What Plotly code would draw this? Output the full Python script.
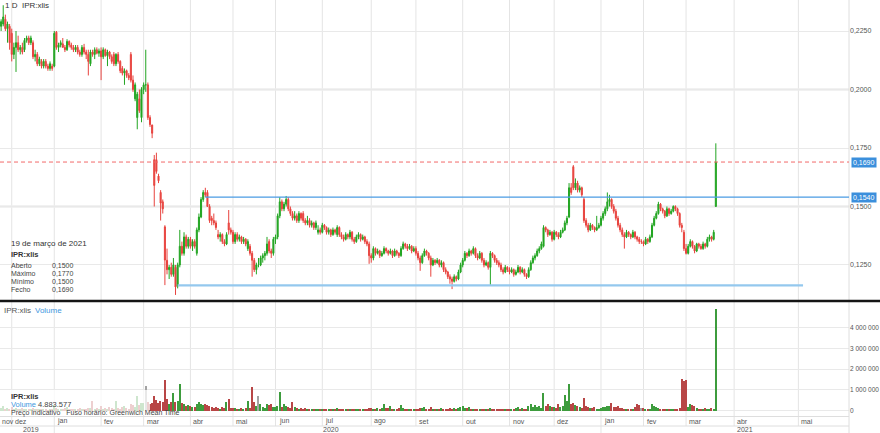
import plotly.graph_objects as go

# ---------------- data (daily candles, 25 Nov 2019 .. 19 Mar 2021) ----------------
open_ = [
    .2270, .2280, .2300, .2260, .2270,
    .2240, .2150, .2180, .2200, .2170, .2180, .2170, .2210, .2220, .2200, .2200, .2140, .2150, .2110, .2120, .2100, .2120, .2100, .2090, .2100,
    .2100, .2245, .2180, .2190, .2195, .2180, .2170, .2205, .2190, .2180, .2170, .2180, .2160, .2150, .2180, .2160, .2150, .2110, .2160, .2150, .2170, .2155,
    .2165, .2140, .2170, .2145, .2160, .2140, .2150, .2110, .2150, .2120, .2090, .2070, .2080, .2060, .2150, .2040, .1960, .1880, .1960, .1880,
    .2000, .2020, .2020, .1880, .1848, .1700, .1700, .1630, .1560, .1520, .1413, .1270, .1230, .1240, .1210, .1240, .1160, .1250, .1330, .1300, .1370, .1330,
    .1360, .1330, .1350, .1300, .1400, .1455, .1530, .1560, .1560, .1500, .1450, .1440, .1430, .1380, .1370, .1380, .1350, .1340, .1430, .1400,
    .1390, .1350, .1380, .1360, .1370, .1350, .1360, .1320, .1330, .1300, .1270, .1230, .1250, .1250, .1280, .1290, .1300, .1350, .1310, .1300,
    .1360, .1370, .1460, .1520, .1490, .1510, .1530, .1490, .1470, .1450, .1460, .1440, .1470, .1470, .1440, .1430, .1440, .1420, .1430, .1410, .1390, .1400,
    .1390, .1420, .1410, .1390, .1400, .1380, .1400, .1380, .1410, .1380, .1370, .1360, .1380, .1370, .1390, .1360, .1350, .1370, .1380, .1360, .1370, .1350, .1340,
    .1290, .1280, .1320, .1300, .1310, .1290, .1300, .1320, .1310, .1300, .1310, .1290, .1310, .1300, .1290, .1320, .1340, .1330, .1320, .1330, .1310,
    .1320, .1300, .1280, .1260, .1290, .1310, .1300, .1280, .1250, .1270, .1260, .1270, .1250, .1260, .1230, .1220, .1200, .1190, .1180, .1200, .1190, .1220,
    .1250, .1270, .1300, .1290, .1310, .1300, .1320, .1290, .1280, .1300, .1270, .1250, .1260, .1240, .1300, .1290, .1270, .1260, .1250, .1230, .1220, .1240,
    .1230, .1220, .1230, .1210, .1220, .1240, .1220, .1230, .1210, .1200, .1230, .1260, .1280, .1290, .1310, .1320, .1330, .1410, .1400, .1380, .1390,
    .1360, .1390, .1380, .1370, .1390, .1400, .1430, .1455, .1580, .1670, .1580, .1600, .1570, .1580, .1530, .1440, .1420, .1400, .1420, .1410, .1400, .1410,
    .1420, .1450, .1470, .1490, .1520, .1530, .1500, .1480, .1450, .1420, .1400, .1380, .1370, .1390, .1380, .1370, .1390, .1370, .1360, .1350,
    .1350, .1340, .1360, .1350, .1370, .1420, .1450, .1470, .1510, .1490, .1480, .1460, .1490, .1470, .1480, .1500, .1490, .1470, .1420, .1390,
    .1320, .1300, .1330, .1350, .1330, .1310, .1340, .1330, .1320, .1340, .1330, .1360, .1370, .1360, .1500,
]
high = [
    .2300, .2360, .2320, .2290, .2280,
    .2260, .2200, .2250, .2230, .2190, .2200, .2220, .2230, .2230, .2230, .2210, .2170, .2160, .2140, .2130, .2130, .2130, .2110, .2120, .2110,
    .2250, .2250, .2200, .2210, .2220, .2190, .2215, .2210, .2200, .2190, .2190, .2190, .2170, .2190, .2195, .2170, .2170, .2170, .2170, .2180, .2180, .2175,
    .2180, .2180, .2175, .2170, .2165, .2150, .2160, .2155, .2160, .2125, .2100, .2090, .2085, .2070, .2160, .2060, .2030, .1990, .2000, .2010,
    .2030, .2170, .2030, .1890, .1850, .1720, .1730, .1640, .1570, .1530, .1420, .1320, .1250, .1260, .1280, .1250, .1260, .1400, .1350, .1390, .1380, .1370,
    .1370, .1360, .1360, .1410, .1470, .1540, .1570, .1580, .1570, .1510, .1460, .1470, .1440, .1400, .1390, .1385, .1360, .1390, .1485, .1410,
    .1400, .1390, .1390, .1380, .1375, .1370, .1365, .1360, .1340, .1310, .1280, .1260, .1280, .1290, .1300, .1310, .1370, .1360, .1320, .1370,
    .1380, .1470, .1540, .1530, .1520, .1545, .1540, .1500, .1480, .1480, .1470, .1480, .1475, .1480, .1450, .1460, .1450, .1440, .1435, .1440, .1420, .1410,
    .1430, .1425, .1415, .1410, .1405, .1410, .1405, .1420, .1415, .1390, .1380, .1390, .1385, .1400, .1395, .1370, .1380, .1390, .1385, .1380, .1375, .1360, .1350,
    .1300, .1330, .1325, .1320, .1315, .1310, .1330, .1325, .1315, .1320, .1315, .1320, .1315, .1305, .1330, .1350, .1345, .1340, .1340, .1335, .1330,
    .1330, .1310, .1290, .1300, .1320, .1315, .1305, .1290, .1280, .1275, .1280, .1275, .1270, .1265, .1240, .1225, .1210, .1200, .1210, .1205, .1230, .1260,
    .1280, .1310, .1305, .1320, .1315, .1330, .1325, .1300, .1310, .1305, .1280, .1270, .1265, .1310, .1305, .1295, .1280, .1270, .1260, .1240, .1250, .1245,
    .1240, .1240, .1235, .1230, .1250, .1245, .1240, .1235, .1215, .1240, .1270, .1290, .1300, .1320, .1330, .1350, .1420, .1415, .1405, .1400, .1395,
    .1400, .1395, .1390, .1400, .1410, .1440, .1460, .1600, .1600, .1677, .1620, .1610, .1590, .1585, .1540, .1450, .1430, .1430, .1425, .1415, .1460, .1430,
    .1460, .1480, .1500, .1560, .1550, .1535, .1510, .1490, .1460, .1430, .1410, .1390, .1400, .1395, .1385, .1400, .1395, .1375, .1370, .1360,
    .1355, .1370, .1365, .1380, .1430, .1460, .1480, .1520, .1515, .1495, .1485, .1500, .1495, .1490, .1505, .1505, .1495, .1475, .1430, .1400,
    .1340, .1340, .1360, .1355, .1335, .1345, .1345, .1340, .1350, .1345, .1370, .1380, .1375, .1400, .1770,
]
low = [
    .2250, .2270, .2250, .2200, .2170,
    .2120, .2130, .2075, .2160, .2150, .2150, .2160, .2200, .2190, .2190, .2130, .2120, .2100, .2100, .2090, .2090, .2090, .2080, .2080, .2080,
    .2095, .2170, .2160, .2180, .2180, .2160, .2165, .2180, .2170, .2160, .2160, .2150, .2140, .2140, .2150, .2130, .2060, .2100, .2140, .2130, .2150, .2140,
    .2040, .2130, .2140, .2100, .2130, .2110, .2100, .2100, .2110, .2070, .2060, .2020, .2050, .2040, .2030, .1990, .1950, .1830, .1900, .1860,
    .1980, .1990, .1870, .1840, .1792, .1500, .1640, .1600, .1440, .1470, .1164, .1210, .1190, .1200, .1200, .1122, .1150, .1240, .1290, .1290, .1320, .1320,
    .1320, .1310, .1320, .1290, .1390, .1450, .1520, .1540, .1500, .1430, .1420, .1420, .1400, .1360, .1350, .1340, .1330, .1335, .1380, .1380,
    .1340, .1340, .1350, .1350, .1340, .1340, .1330, .1310, .1290, .1200, .1220, .1210, .1240, .1245, .1260, .1270, .1290, .1300, .1280, .1290,
    .1340, .1360, .1450, .1480, .1480, .1500, .1480, .1460, .1440, .1440, .1430, .1430, .1440, .1430, .1420, .1420, .1410, .1410, .1400, .1400, .1380, .1380,
    .1385, .1400, .1380, .1380, .1370, .1375, .1380, .1370, .1370, .1360, .1350, .1355, .1360, .1360, .1350, .1340, .1345, .1360, .1350, .1355, .1340, .1330, .1255,
    .1260, .1270, .1290, .1295, .1280, .1285, .1295, .1300, .1290, .1295, .1280, .1285, .1290, .1280, .1285, .1315, .1320, .1310, .1315, .1300, .1305,
    .1290, .1270, .1225, .1255, .1285, .1290, .1270, .1200, .1245, .1250, .1255, .1240, .1240, .1220, .1210, .1190, .1170, .1147, .1175, .1180, .1185, .1215,
    .1240, .1265, .1280, .1285, .1290, .1295, .1280, .1270, .1275, .1260, .1240, .1245, .1230, .1165, .1280, .1260, .1250, .1240, .1220, .1210, .1215, .1220,
    .1210, .1215, .1200, .1205, .1215, .1210, .1215, .1200, .1190, .1195, .1225, .1255, .1270, .1285, .1300, .1315, .1325, .1390, .1370, .1375, .1350,
    .1355, .1370, .1360, .1365, .1385, .1395, .1420, .1450, .1550, .1570, .1570, .1560, .1560, .1540, .1430, .1410, .1390, .1395, .1400, .1390, .1395, .1405,
    .1415, .1440, .1460, .1480, .1500, .1490, .1470, .1440, .1410, .1390, .1370, .1320, .1365, .1370, .1360, .1365, .1360, .1350, .1340, .1340,
    .1330, .1335, .1340, .1345, .1365, .1415, .1445, .1465, .1480, .1470, .1450, .1455, .1460, .1465, .1475, .1480, .1460, .1410, .1390, .1310,
    .1295, .1295, .1325, .1320, .1300, .1305, .1320, .1315, .1315, .1320, .1325, .1350, .1350, .1355, .1500,
]
close = [
    .2290, .2310, .2260, .2280, .2200,
    .2150, .2180, .2200, .2170, .2180, .2160, .2210, .2220, .2200, .2220, .2140, .2150, .2110, .2130, .2100, .2120, .2100, .2090, .2110, .2090,
    .2240, .2180, .2190, .2200, .2180, .2170, .2205, .2190, .2180, .2170, .2180, .2160, .2150, .2180, .2160, .2150, .2120, .2160, .2150, .2170, .2155, .2165,
    .2140, .2170, .2145, .2160, .2140, .2120, .2110, .2150, .2120, .2080, .2070, .2080, .2060, .2050, .2040, .2000, .2020, .1980, .1910, .2000,
    .2020, .2020, .1880, .1850, .1813, .1590, .1650, .1610, .1515, .1490, .1271, .1230, .1240, .1210, .1250, .1156, .1250, .1330, .1300, .1370, .1330, .1360,
    .1330, .1350, .1330, .1400, .1455, .1530, .1560, .1550, .1500, .1440, .1440, .1430, .1410, .1370, .1380, .1350, .1340, .1380, .1400, .1390,
    .1350, .1380, .1360, .1370, .1350, .1360, .1340, .1350, .1300, .1270, .1230, .1250, .1250, .1280, .1290, .1300, .1340, .1310, .1300, .1360,
    .1370, .1460, .1520, .1490, .1510, .1530, .1490, .1470, .1450, .1460, .1440, .1470, .1450, .1440, .1430, .1440, .1420, .1430, .1410, .1430, .1400, .1390,
    .1420, .1410, .1390, .1400, .1380, .1400, .1390, .1410, .1380, .1370, .1360, .1380, .1370, .1390, .1360, .1350, .1370, .1380, .1360, .1370, .1350, .1340, .1290,
    .1280, .1320, .1300, .1310, .1290, .1300, .1320, .1310, .1300, .1310, .1290, .1310, .1300, .1290, .1320, .1340, .1330, .1320, .1330, .1310, .1320,
    .1300, .1280, .1260, .1290, .1310, .1300, .1280, .1250, .1270, .1260, .1270, .1250, .1260, .1230, .1220, .1200, .1190, .1180, .1200, .1190, .1220, .1250,
    .1270, .1300, .1290, .1310, .1300, .1320, .1290, .1280, .1300, .1270, .1250, .1260, .1240, .1300, .1290, .1270, .1260, .1250, .1230, .1220, .1240, .1230,
    .1220, .1230, .1210, .1220, .1240, .1220, .1230, .1210, .1200, .1230, .1260, .1280, .1290, .1310, .1320, .1340, .1410, .1400, .1380, .1390, .1360,
    .1390, .1380, .1370, .1390, .1400, .1430, .1450, .1580, .1560, .1580, .1600, .1570, .1580, .1550, .1440, .1420, .1400, .1420, .1410, .1400, .1410, .1420,
    .1450, .1470, .1490, .1520, .1530, .1500, .1480, .1450, .1420, .1400, .1380, .1370, .1390, .1380, .1370, .1390, .1370, .1360, .1350, .1350,
    .1340, .1360, .1350, .1370, .1420, .1450, .1470, .1510, .1490, .1480, .1460, .1490, .1470, .1480, .1500, .1490, .1470, .1420, .1410, .1320,
    .1300, .1330, .1350, .1330, .1310, .1340, .1330, .1320, .1340, .1330, .1360, .1370, .1360, .1390, .1690,
]
# volume in thousands of shares
volume_k = [
    120, 210, 90, 150, 80,
    180, 90, 140, 60, 70, 110, 50, 80, 40, 60, 130, 70, 90, 50, 60, 80, 40, 30, 70, 50,
    260, 150, 90, 60, 80, 110, 170, 70, 60, 90, 50, 80, 120, 60, 90, 70, 140, 120, 450, 80, 110, 60,
    210, 90, 130, 70, 160, 110, 80, 450, 120, 90, 180, 240, 150, 100, 330, 260, 200, 710, 280, 350,
    380, 1200, 420, 300, 350, 710, 520, 380, 450, 400, 1480, 560, 330, 410, 850, 420, 460, 1290, 380, 300, 250, 280,
    240, 200, 180, 300, 440, 300, 260, 320, 280, 220, 180, 150, 190, 130, 100, 160, 120, 430, 560, 150,
    150, 120, 100, 90, 140, 80, 110, 450, 150, 1130, 400, 250, 710, 300, 200, 150, 320, 280, 300, 200,
    180, 250, 920, 200, 300, 250, 180, 150, 430, 200, 120, 100, 150, 90, 120, 80, 60, 70, 100, 80, 60, 90,
    70, 60, 50, 80, 60, 90, 70, 110, 60, 50, 40, 70, 50, 60, 40, 50, 90, 60, 80, 50, 70, 90, 110,
    120, 100, 80, 150, 90, 110, 300, 140, 120, 250, 100, 90, 80, 120, 280, 110, 90, 100, 70, 80, 90,
    80, 100, 150, 120, 180, 90, 70, 200, 80, 60, 90, 70, 110, 80, 60, 100, 120, 90, 150, 80, 130, 160,
    250, 140, 110, 180, 90, 70, 100, 80, 60, 50, 70, 90, 60, 120, 80, 70, 60, 50, 60, 40, 80, 60,
    70, 90, 60, 120, 180, 100, 130, 90, 80, 250, 320, 200, 280, 180, 220, 150, 840, 250, 300, 220, 180,
    200, 150, 320, 180, 250, 760, 450, 1270, 300, 350, 280, 220, 160, 150, 600, 250, 180, 150, 120, 200, 100, 90,
    150, 200, 180, 250, 220, 390, 200, 180, 220, 150, 120, 100, 80, 90, 70, 100, 200, 300, 280, 150,
    120, 80, 60, 100, 300, 250, 200, 150, 90, 60, 80, 70, 50, 60, 90, 70, 80, 130, 1530, 1410,
    1480, 200, 300, 280, 250, 120, 100, 80, 90, 150, 100, 80, 110, 90, 4883.577,
]

# month ticks (candle index of the first session of each month; future months on calendar spacing)
month_labels = ["dez", "jan", "fev", "mar", "abr", "mai", "jun", "jul", "ago", "set", "out", "nov",
                "dez", "jan", "fev", "mar", "abr", "mai"]
month_pos = [5, 25, 47, 67, 89, 109, 129, 151, 174, 195, 217, 239, 260, 282, 302, 322, 344.6, 374.8]
year_labels = ["2019", "2020", "2021"]
year_label_pos = [9, 150, 344.6]
year_bounds = [25, 282]

price_ticks = [0.125, 0.150, 0.175, 0.200, 0.225]
volume_ticks = [0, 1000000, 2000000, 3000000, 4000000]

last_price = 0.1690
resistance = 0.1540
resistance_start = 96
support = 0.1163
support_span = [83, 377]

info_date = "19 de março de 2021"
info_rows = [("Aberto", "0,1500"), ("Máximo", "0,1770"), ("Mínimo", "0,1500"), ("Fecho", "0,1690")]
last_volume_text = "4.883.577"

# ---------------- figure ----------------
X_RANGE = [-0.52, 398.6]
W, H = 880, 433
PLOT_W, PLOT_B = 849, 416


def pxx(p):
    return p / PLOT_W


def pxy(p):
    return (PLOT_B - p) / PLOT_B


x = list(range(len(close)))
volume = [v * 1000 for v in volume_k]
GREEN, RED = "#22a522", "#e8433e"
vcol = []
for o, c in zip(open_, close):
    if c > o:
        vcol.append("#3d9c3d")
    elif c < o:
        vcol.append("#b84646")
    else:
        vcol.append("#a3a3a3")

fig = go.Figure()
fig.add_trace(go.Candlestick(
    x=x, open=open_, high=high, low=low, close=close,
    increasing=dict(line=dict(color=GREEN, width=1), fillcolor=GREEN),
    decreasing=dict(line=dict(color=RED, width=1), fillcolor=RED),
    whiskerwidth=0, xaxis="x", yaxis="y", hoverinfo="skip",
))
fig.add_trace(go.Bar(
    x=x, y=volume, marker=dict(color=vcol, line=dict(width=0)), width=0.62,
    xaxis="x", yaxis="y2", hoverinfo="skip",
))

shapes = []
# vertical month grid lines, extended through the month-label row
for p in month_pos:
    shapes.append(dict(type="line", xref="x", yref="paper", x0=p, x1=p, y0=pxy(426), y1=1,
                       line=dict(color="#e4e4e4", width=1), layer="below"))
for p in year_bounds:
    shapes.append(dict(type="line", xref="x", yref="paper", x0=p, x1=p, y0=pxy(433), y1=pxy(426),
                       line=dict(color="#e4e4e4", width=1), layer="below"))
# axis rows
for yy in (416.5, 426):
    shapes.append(dict(type="line", xref="paper", yref="paper", x0=0, x1=1, y0=pxy(yy), y1=pxy(yy),
                       line=dict(color="#dedede", width=1)))
shapes.append(dict(type="line", xref="paper", yref="paper", x0=1, x1=1, y0=pxy(433), y1=1,
                   line=dict(color="#dedede", width=1)))
# heavier grid lines at 0,1500 and 0,2000
for lv in (0.15, 0.20):
    shapes.append(dict(type="line", xref="paper", yref="y", x0=0, x1=1, y0=lv, y1=lv,
                       line=dict(color="#ececec", width=2.5), layer="below"))
# panel separator
shapes.append(dict(type="line", xref="paper", yref="paper", x0=0, x1=W / PLOT_W, y0=pxy(301), y1=pxy(301),
                   line=dict(color="#151515", width=2.5)))
# level lines
shapes.append(dict(type="line", xref="paper", yref="y", x0=0, x1=1, y0=last_price, y1=last_price,
                   line=dict(color="#f26a6a", width=1, dash="4px,3px")))
shapes.append(dict(type="line", xref="x", yref="y", x0=resistance_start, x1=X_RANGE[1], y0=resistance, y1=resistance,
                   line=dict(color="#4a9be3", width=1.3)))
shapes.append(dict(type="line", xref="x", yref="y", x0=support_span[0], x1=support_span[1], y0=support, y1=support,
                   line=dict(color="#94c8ee", width=2.2)))
# translucent box behind the volume legend
shapes.append(dict(type="rect", xref="paper", yref="paper", x0=0, x1=pxx(150), y0=pxy(415), y1=pxy(390),
                   fillcolor="rgba(255,255,255,0.75)", line=dict(width=0), layer="above"))

FONT = "Liberation Sans, Arial, sans-serif"
TXT = "#444444"
ann = []


def text(t, xp, yp, size=8, color=TXT, bold=False, **kw):
    if bold:
        t = "<b>" + t + "</b>"
    d = dict(text=t, xref="paper", yref="paper", x=pxx(xp), y=pxy(yp), xanchor="left", yanchor="middle",
             showarrow=False, font=dict(family=FONT, size=size, color=color))
    d.update(kw)
    ann.append(d)


text("1 D", 3, 6, size=8, color="#333")
text("IPR:xlis", 20, 6, size=8, color="#333")
text(info_date, 9, 243, size=8, color="#333")
text("IPR:xlis", 9, 255, size=7.5, color="#333", bold=True)
for k, (lab, val) in enumerate(info_rows):
    text(lab, 9, 265 + 8 * k, size=7, color="#444")
    text(val, 50, 265 + 8 * k, size=7, color="#444")
text("IPR:xlis", 2, 310, size=8, color="#555")
text("Volume", 33, 310, size=8, color="#3f97e0")
text("IPR:xlis", 9, 396, size=7.5, color="#333", bold=True)
text("Volume", 9, 404.5, size=7.5, color="#3f97e0")
text(last_volume_text, 36, 404.5, size=7.5, color="#444")
text("Preço indicativo &nbsp;&nbsp;Fuso horário: Greenwich Mean Time", 9, 412.5, size=7, color="#444")

# month and year labels
LBL = dict(family=FONT, size=7, color="#555")
ann.append(dict(text="nov", xref="paper", yref="paper", x=0, y=pxy(421.5), xanchor="left", yanchor="middle",
                showarrow=False, xshift=0, font=LBL))
for lab, p in zip(month_labels, month_pos):
    ann.append(dict(text=lab, xref="x", yref="paper", x=p, y=pxy(421.5), xanchor="left", yanchor="middle",
                    showarrow=False, xshift=1, font=LBL))
for lab, p in zip(year_labels, year_label_pos):
    ann.append(dict(text=lab, xref="x", yref="paper", x=p, y=pxy(429.8), xanchor="left", yanchor="middle",
                    showarrow=False, xshift=1, font=LBL))

# price tags on the right axis
for val, lab in ((last_price, "0,1690"), (resistance, "0,1540")):
    ann.append(dict(text=lab, xref="paper", yref="y", x=1, y=val, xanchor="left", yanchor="middle",
                    showarrow=False, xshift=2, bgcolor="#3b8fdc", borderpad=1,
                    font=dict(family=FONT, size=7, color="white")))

fig.update_layout(
    width=W, height=H, margin=dict(l=0, r=W - PLOT_W, t=0, b=H - PLOT_B, autoexpand=False),
    paper_bgcolor="white", plot_bgcolor="white", showlegend=False, separators=", ",
    font=dict(family=FONT, size=8, color="#555"), bargap=0, hovermode=False,
    xaxis=dict(range=X_RANGE, showgrid=False, showticklabels=False, zeroline=False, showline=False,
               ticks="", rangeslider=dict(visible=False), anchor="y2", fixedrange=True),
    yaxis=dict(domain=[pxy(300), 1], range=[0.11004, 0.23825], side="right", tickvals=price_ticks,
               tickformat=".4f", showgrid=True, gridcolor="#e9e9e9", gridwidth=1, zeroline=False,
               showline=False, ticks="", tickfont=dict(size=7, color="#555"), fixedrange=True),
    yaxis2=dict(domain=[0, pxy(303)], range=[-255000, 5190000], side="right", tickvals=volume_ticks,
                tickformat=",d", showgrid=True, gridcolor="#e9e9e9", gridwidth=1, zeroline=False,
                showline=False, ticks="", tickfont=dict(size=6.5, color="#555"), fixedrange=True),
    shapes=shapes, annotations=ann,
)

fig.write_html(
    "out.html",
    config={"displayModeBar": False},
    post_script="document.body.style.margin='0';document.body.style.overflow='hidden';",
)
